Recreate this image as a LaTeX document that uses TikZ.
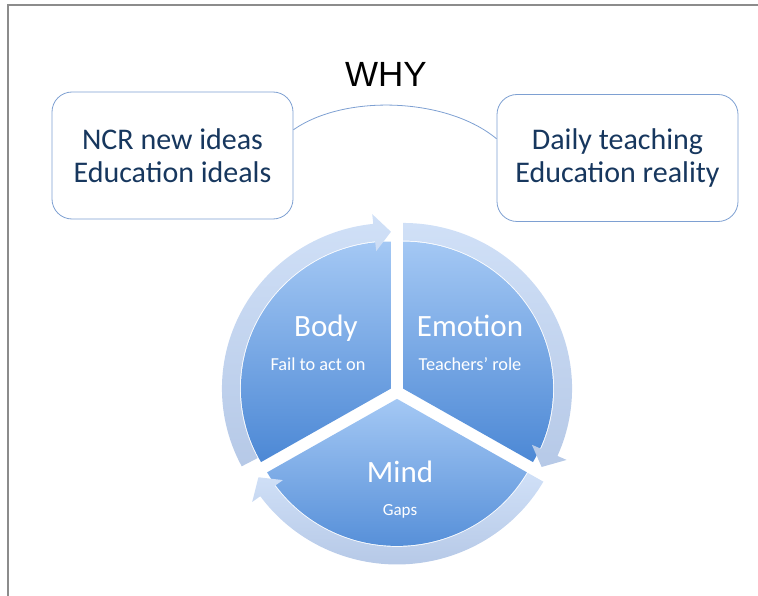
\documentclass[tikz,border=0pt]{standalone}
\usepackage{fontspec}
\setmainfont{Carlito}
\newfontfamily\whyfont{Liberation Sans}
\usetikzlibrary{positioning}

\definecolor{navy}{RGB}{23,55,94}
\definecolor{edgeblue}{RGB}{126,160,210}
\definecolor{pietop}{RGB}{164,200,244}
\definecolor{piebot}{RGB}{76,136,213}
\definecolor{ringtop}{RGB}{208,224,247}
\definecolor{ringbot}{RGB}{182,201,231}
\definecolor{framegray}{RGB}{140,140,140}

\begin{document}
\begin{tikzpicture}[x=1pt,y=1pt]
    % --- Styles ---
    \tikzset{
      idea/.style={draw=edgeblue, line width=0.8pt, rounded corners=20pt, fill=white,
        minimum width=241pt, minimum height=127pt, align=center, text=navy,
        font=\fontsize{30}{33}\selectfont},
      link/.style={draw=edgeblue, line width=0.8pt},
      segment/.style={top color=pietop, bottom color=piebot},
      ringarrow/.style={top color=ringtop, bottom color=ringbot},
      seglabel/.style={text=white, anchor=base, font=\fontsize{31}{32}\selectfont},
      segnote/.style={text=white, anchor=base, font=\fontsize{18.3}{20}\selectfont}
    }

    \useasboundingbox (0,0) rectangle (758,-596);
    \draw[framegray, line width=1.2pt] (8,-596) -- (8,-5) -- (758,-5);

    % --- 1. Heading and the two idea boxes ---
    \node[font=\whyfont\fontsize{35}{40}\selectfont, anchor=base] (why) at (386,-87) {WHY};

    \node[idea] (ideals) at (172.5,-155.5) {NCR new ideas\\Education ideals};
    \node[idea] (reality) at (617.5,-158) {Daily teaching\\Education reality};
    \draw[link] (ideals.12) to[out=35,in=140,looseness=0.8] (reality.171);

    % --- 2. Segmented cycle ---
    \begin{scope}[shift={(397,-392)}, yscale=0.98]
      % Body
      \begin{scope}[shift={(150:7)}]
        \shade[segment] (0,0) -- (90:150) arc[start angle=90, end angle=210, radius=150] -- cycle;
        \shade[ringarrow] (208:169) arc[start angle=208, end angle=96, radius=169]
          -- (96:179) -- (90:160) -- (96:141) -- (96:151)
          arc[start angle=96, end angle=208, radius=151] -- cycle;
      \end{scope}
      % Emotion
      \begin{scope}[shift={(30:7)}]
        \shade[segment] (0,0) -- (90:150) arc[start angle=90, end angle=-30, radius=150] -- cycle;
        \shade[ringarrow] (90:169) arc[start angle=90, end angle=-24, radius=169]
          -- (-24:179) -- (-30:160) -- (-24:141) -- (-24:151)
          arc[start angle=-24, end angle=90, radius=151] -- cycle;
      \end{scope}
      % Mind
      \begin{scope}[shift={(270:7)}]
        \shade[segment] (0,0) -- (-30:150) arc[start angle=-30, end angle=-150, radius=150] -- cycle;
        \shade[ringarrow] (-30:169) arc[start angle=-30, end angle=-144, radius=169]
          -- (-144:179) -- (-150:160) -- (-144:141) -- (-144:151)
          arc[start angle=-144, end angle=-30, radius=151] -- cycle;
      \end{scope}
    \end{scope}

    % --- 3. Segment labels ---
    \node[seglabel] (body) at (326,-336) {Body};
    \node[segnote] (bodynote) at (318,-370) {Fail to act on};
    \node[seglabel] (emotion) at (470,-336) {Emotion};
    \node[segnote] (emotionnote) at (470,-370) {Teachers’ role};
    \node[seglabel] (mind) at (400,-482) {Mind};
    \node[segnote, font=\fontsize{17}{18}\selectfont] (mindnote) at (400,-515) {Gaps};

\end{tikzpicture}
\end{document}
